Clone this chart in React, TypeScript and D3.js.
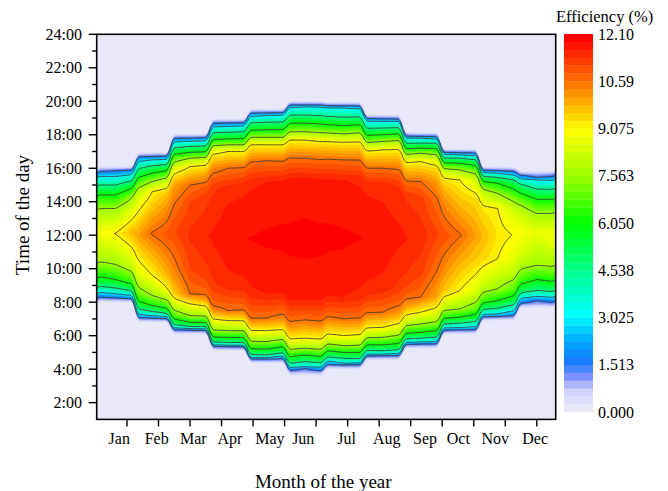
import React, { useMemo } from "react";
import * as d3 from "d3";

// ---------- data ----------
const MONTHS = ["Jan", "Feb", "Mar", "Apr", "May", "Jun", "Jul", "Aug", "Sep", "Oct", "Nov", "Dec"];
const MONTH_LABEL_DAY = [18.9, 48.6, 77.6, 106.7, 138.4, 164.8, 199.2, 231, 261.4, 287.8, 317, 348.7];
const MONTH_MID_DAY = [16, 45, 75, 105, 136, 166, 197, 228, 258, 289, 319, 350];
const MONTH_START_DAY = [1, 32, 60, 91, 121, 152, 182, 213, 244, 274, 305, 335];
const X_TICKS = [25, 50, 75, 100, 125, 150, 175, 200, 225, 250, 275, 300, 325, 350];
const Y_MAJOR = [2, 4, 6, 8, 10, 12, 14, 16, 18, 20, 22, 24];
const Y_MINOR = [3, 5, 7, 9, 11, 13, 15, 17, 19, 21, 23];
const Y_LABELS = ["2:00", "4:00", "6:00", "8:00", "10:00", "12:00", "14:00", "16:00", "18:00", "20:00", "22:00", "24:00"];

const LEVELS = [1.513, 3.025, 4.538, 6.05, 7.563, 9.075, 10.59];
const CBAR_TICKS = [0, 1.513, 3.025, 4.538, 6.05, 7.563, 9.075, 10.59, 12.1];
const CBAR_LABELS = ["0.000", "1.513", "3.025", "4.538", "6.050", "7.563", "9.075", "10.59", "12.10"];
const VMAX = 12.1;
const N_BANDS = 48;

// zero boundaries (hours) per month
const RISE_ZERO = [7.95, 6.75, 6.04, 5.05, 4.3, 3.55, 3.95, 4.5, 5.2, 6.05, 6.85, 7.6];
const SET_ZERO = [16.15, 17.0, 18.1, 19.0, 19.6, 20.07, 20.02, 19.25, 18.2, 17.22, 16.15, 15.9];
// morning crossing times of LEVELS (hours)
const RISE_CROSS: (number | null)[][] = [
  [8.25, 8.5, 8.85, 9.35, 10.25, null, null],
  [7.05, 7.2, 7.45, 7.8, 8.4, 9.6, null],
  [6.34, 6.42, 6.55, 6.8, 7.2, 7.9, 8.5],
  [5.35, 5.42, 5.6, 5.9, 6.3, 6.9, 7.5],
  [4.6, 4.7, 4.85, 5.2, 5.65, 6.3, 7.05],
  [4.05, 4.15, 4.45, 4.85, 5.25, 5.85, 6.94],
  [4.25, 4.35, 4.65, 5.0, 5.4, 6.0, 7.0],
  [4.8, 4.9, 5.1, 5.45, 5.9, 6.5, 7.4],
  [5.5, 5.62, 5.85, 6.2, 6.7, 7.4, 8.3],
  [6.35, 6.48, 6.75, 7.1, 7.6, 8.7, null],
  [7.15, 7.3, 7.65, 8.1, 8.8, 10.6, null],
  [8.1, 8.35, 8.7, 9.35, 10.2, null, null],
];
// evening crossing times of LEVELS (hours)
const SET_CROSS: (number | null)[][] = [
  [15.85, 15.5, 15.0, 14.4, 13.6, null, null],
  [16.7, 16.5, 16.15, 15.7, 15.2, 14.6, null],
  [17.8, 17.62, 17.3, 16.95, 16.6, 16.1, 15.0],
  [18.7, 18.5, 18.15, 17.75, 17.4, 17.0, 16.0],
  [19.3, 19.15, 18.75, 18.3, 17.85, 17.4, 16.45],
  [19.77, 19.68, 19.18, 18.7, 18.18, 17.69, 16.6],
  [19.72, 19.6, 19.05, 18.55, 18.05, 17.55, 16.5],
  [18.95, 18.8, 18.4, 18.0, 17.6, 17.1, 16.0],
  [17.9, 17.8, 17.5, 17.2, 16.9, 16.4, 15.2],
  [16.92, 16.8, 16.6, 16.3, 15.9, 15.3, null],
  [15.85, 15.7, 15.45, 15.1, 14.5, 13.6, null],
  [15.45, 15.3, 14.75, 14.15, 13.3, null, null],
];
// plateau ("shoulder") inside the red core: value PEAK - SHOULDER_DROP reached at these times
const RISE_SHOULDER: (number | null)[] = [null, null, 10.0, 9.0, 8.5, 8.2, 8.3, 8.8, 9.8, null, null, null];
const SET_SHOULDER: (number | null)[] = [null, null, 14.0, 14.8, 15.2, 15.4, 15.3, 15.0, 14.2, null, null, null];
const SHOULDER_DROP = 0.3;
const PEAK = [9.1, 10.65, 11.4, 11.8, 11.9, 11.95, 11.9, 11.8, 11.5, 10.65, 9.3, 8.7];
const PEAK_TIME = [12.1, 12.1, 12.0, 11.9, 11.8, 11.8, 11.8, 11.8, 11.9, 12.0, 12.1, 12.2];

const CMAP_STOPS = [0, 0.6, 1.0, 1.513, 2.2, 3.025, 4.538, 6.05, 7.563, 9.075, 10.59, 12.1];
const CMAP_COLORS = ["#e8e8f8", "#cfd0ff", "#8092ff", "#1a7cff", "#00a8ff", "#00ffff", "#00ff88", "#00ff00", "#9cff00", "#ffff00", "#ff7800", "#ff0000"];

// ---------- layout ----------
const W = 668, H = 491;
const PL = 96.7, PR = 555.7, PT = 34.3, PB = 419.4;
const CB_X = 564, CB_W = 29, CB_TOP = 34, CB_BOT = 412;
const FONT = "'Liberation Serif', 'Times New Roman', serif";

function buildProfile(m: number): [number, number][] {
  const pts: [number, number][] = [[RISE_ZERO[m], 0]];
  RISE_CROSS[m].forEach((t, k) => { if (t != null) pts.push([t, LEVELS[k]]); });
  if (RISE_SHOULDER[m] != null) pts.push([RISE_SHOULDER[m] as number, PEAK[m] - SHOULDER_DROP]);
  pts.push([PEAK_TIME[m], PEAK[m]]);
  if (SET_SHOULDER[m] != null) pts.push([SET_SHOULDER[m] as number, PEAK[m] - SHOULDER_DROP]);
  for (let k = LEVELS.length - 1; k >= 0; k--) {
    const t = SET_CROSS[m][k];
    if (t != null) pts.push([t, LEVELS[k]]);
  }
  pts.push([SET_ZERO[m], 0]);
  return pts;
}
function evalProfile(pts: [number, number][], h: number) {
  if (h <= pts[0][0] || h >= pts[pts.length - 1][0]) return 0;
  for (let i = 1; i < pts.length; i++) {
    if (h <= pts[i][0]) {
      const [t0, v0] = pts[i - 1], [t1, v1] = pts[i];
      return v0 + ((v1 - v0) * (h - t0)) / (t1 - t0);
    }
  }
  return 0;
}
function monthOf(d: number) {
  let m = 0;
  for (let i = 0; i < 12; i++) if (d >= MONTH_START_DAY[i]) m = i;
  return m;
}

export default function App() {
  const x = d3.scaleLinear().domain([1, 365]).range([PL, PR]);
  const y = d3.scaleLinear().domain([1, 24]).range([PB, PT]);
  const cy = d3.scaleLinear().domain([0, VMAX]).range([CB_BOT, CB_TOP]);
  const cmap = d3.scaleLinear<string>().domain(CMAP_STOPS).range(CMAP_COLORS).interpolate(d3.interpolateRgb);
  const step = VMAX / N_BANDS;
  const bandColors = d3.range(N_BANDS).map((i) => cmap((i / (N_BANDS - 1)) * VMAX));

  const { fills, lines } = useMemo(() => {
    const profiles = d3.range(12).map(buildProfile);
    const nx = 365, dh = 0.05, ny = Math.round(23 / dh) + 1;
    const vals = new Float64Array(nx * ny);
    const SMOOTH = [1, 2, 3, 4, 3, 2, 1];
    for (let i = 0; i < nx; i++) {
      const d = i + 1;
      let rs = 0, ss = 0, wsum = 0;
      for (let k = -3; k <= 3; k++) {
        const dd = ((d - 1 + k + 365) % 365) + 1;
        const mm = monthOf(dd);
        const w = SMOOTH[k + 3];
        rs += w * RISE_ZERO[mm]; ss += w * SET_ZERO[mm]; wsum += w;
      }
      rs /= wsum; ss /= wsum;
      let a = 0, b = 0, t = 0;
      if (d < MONTH_MID_DAY[0] || d >= MONTH_MID_DAY[11]) {
        a = 11; b = 0;
        const span = MONTH_MID_DAY[0] + 365 - MONTH_MID_DAY[11];
        const off = d >= MONTH_MID_DAY[11] ? d - MONTH_MID_DAY[11] : d + 365 - MONTH_MID_DAY[11];
        t = off / span;
      } else {
        for (let k = 0; k < 11; k++) if (d >= MONTH_MID_DAY[k] && d < MONTH_MID_DAY[k + 1]) { a = k; b = k + 1; }
        t = (d - MONTH_MID_DAY[a]) / (MONTH_MID_DAY[b] - MONTH_MID_DAY[a]);
      }
      for (let j = 0; j < ny; j++) {
        const h = 1 + j * dh;
        const u = (h - rs) / (ss - rs);
        let v = 0;
        if (u > 0 && u < 1) {
          const ha = RISE_ZERO[a] + u * (SET_ZERO[a] - RISE_ZERO[a]);
          const hb = RISE_ZERO[b] + u * (SET_ZERO[b] - RISE_ZERO[b]);
          v = (1 - t) * evalProfile(profiles[a], ha) + t * evalProfile(profiles[b], hb);
        }
        vals[j * nx + i] = v;
      }
    }
    const proj = d3.geoTransform({
      point: function (px: number, py: number) {
        (this as any).stream.point(x(1 + px - 0.5), y(1 + (py - 0.5) * dh));
      },
    });
    const path = d3.geoPath(proj);
    const fillTh = d3.range(1, N_BANDS).map((i) => i * step);
    const fc = d3.contours().size([nx, ny]).thresholds(fillTh)(Array.from(vals));
    const lc = d3.contours().size([nx, ny]).thresholds(LEVELS)(Array.from(vals));
    return {
      fills: fc.map((c, i) => ({ d: path(c as any) || "", color: bandColors[i + 1] })),
      lines: lc.map((c) => path(c as any) || ""),
    };
  }, []);

  return (
    <svg width={W} height={H} style={{ position: "absolute", left: 0, top: 0, background: "#fff" }} fontFamily={FONT}>
      <defs>
        <clipPath id="plotclip">
          <rect x={PL} y={PT} width={PR - PL} height={PB - PT} />
        </clipPath>
      </defs>
      <rect x={PL} y={PT} width={PR - PL} height={PB - PT} fill={bandColors[0]} />
      <g clipPath="url(#plotclip)">
        {fills.map((f, i) => (
          <path key={i} d={f.d} fill={f.color} stroke="none" />
        ))}
        {lines.map((l, i) => (
          <path key={"l" + i} d={l} fill="none" stroke="#3c3c3c" strokeWidth={0.9} />
        ))}
      </g>
      <rect x={PL} y={PT} width={PR - PL} height={PB - PT} fill="none" stroke="#000" strokeWidth={1.6} />

      {/* y axis */}
      {Y_MAJOR.map((h, i) => (
        <g key={"ym" + h}>
          <line x1={PL - 8} x2={PL} y1={y(h)} y2={y(h)} stroke="#000" strokeWidth={1.4} />
          <text x={82} y={y(h) + 5.5} fontSize={16} textAnchor="end" fill="#000">{Y_LABELS[i]}</text>
        </g>
      ))}
      {Y_MINOR.map((h) => (
        <line key={"yn" + h} x1={PL - 4.5} x2={PL} y1={y(h)} y2={y(h)} stroke="#000" strokeWidth={1.4} />
      ))}
      {/* x axis */}
      {X_TICKS.map((d) => (
        <line key={"xt" + d} x1={x(d)} x2={x(d)} y1={PB} y2={PB + 7} stroke="#000" strokeWidth={1.4} />
      ))}
      {MONTHS.map((m, i) => (
        <text key={m} x={x(MONTH_LABEL_DAY[i])} y={443.5} fontSize={16} textAnchor="middle" fill="#000">{m}</text>
      ))}
      <text x={323.3} y={488} fontSize={19} textAnchor="middle" fill="#000">Month of the year</text>
      <text transform={`translate(28.5,215) rotate(-90)`} fontSize={19} textAnchor="middle" fill="#000">Time of the day</text>

      {/* colorbar */}
      {bandColors.map((c, i) => (
        <rect key={"cb" + i} x={CB_X} y={cy((i + 1) * step)} width={CB_W} height={cy(0) - cy(step) + 0.3} fill={c} />
      ))}
      {CBAR_TICKS.map((v, i) => (
        <text key={"cl" + i} x={598} y={cy(v) + 5.5} fontSize={16} fill="#000">{CBAR_LABELS[i]}</text>
      ))}
      <text x={556} y={22} fontSize={16.5} fill="#000">Efficiency (%)</text>
    </svg>
  );
}
